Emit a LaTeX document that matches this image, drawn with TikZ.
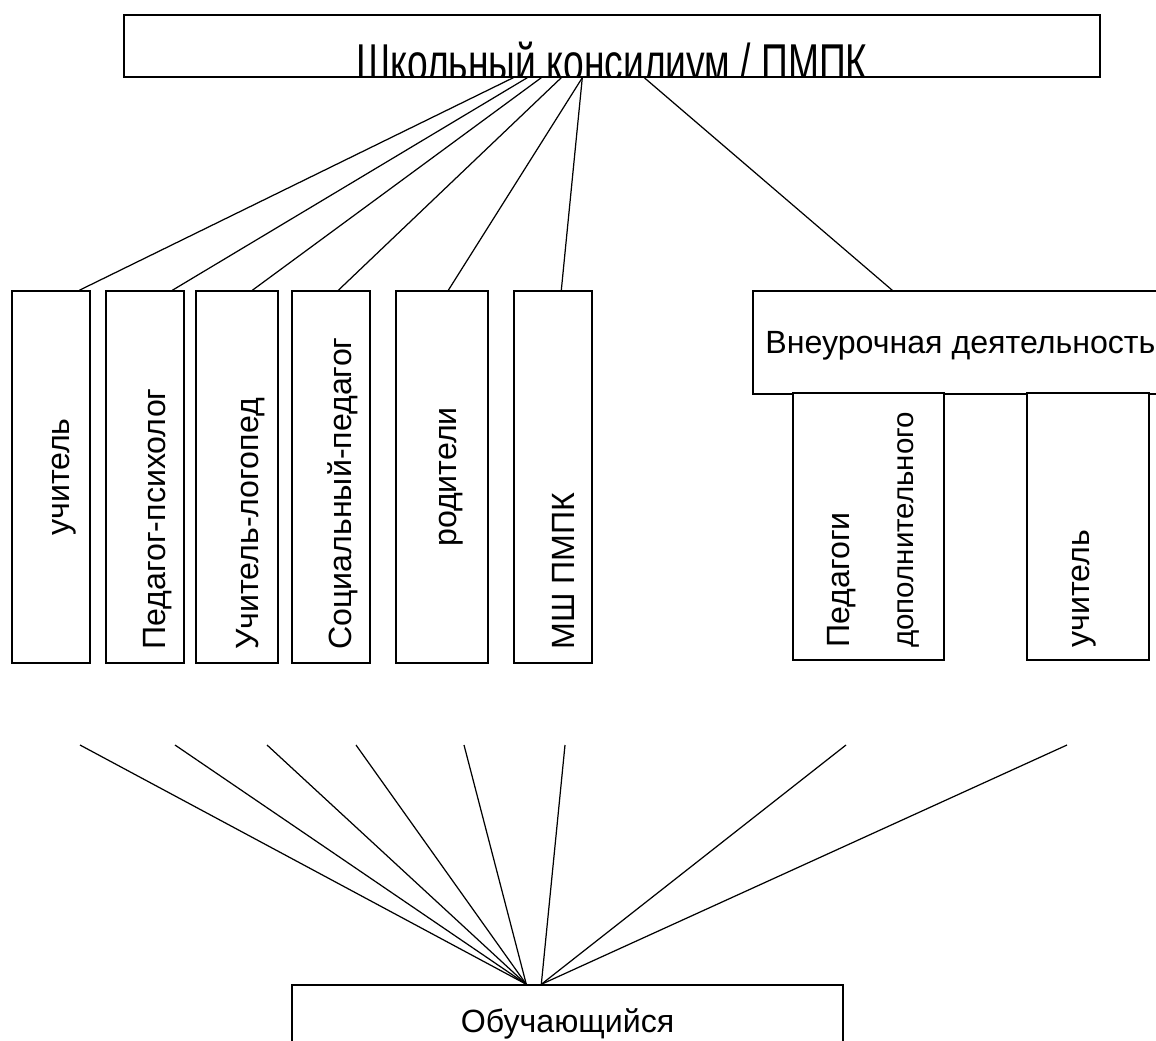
\documentclass[tikz,border=0pt]{standalone}
\usepackage{graphicx}
\usepackage{fontspec}
\setmainfont{Liberation Sans}
\usetikzlibrary{calc}
\newcommand{\pxu}{0.02cm}
\tikzset{
  unit/.style={draw, line width=0.8pt, fill=white, inner sep=0pt},
  link/.style={line width=0.7pt},
  txt/.style={inner sep=0pt, font=\fontsize{18.3}{21}\selectfont},
  vtxt/.style={txt, rotate=90, anchor=base west},
}

\begin{document}
\begin{tikzpicture}[x=0.02cm, y=-0.02cm]
\useasboundingbox (0,0) rectangle (1156,1041);
% top box
\node[unit, minimum width=976*\pxu, minimum height=62*\pxu] (council) at (612,46) {};
\begin{scope}
\clip (council.south west) rectangle (council.north east);
\node[anchor=base, inner sep=0pt] (council_t) at (612,80) {\resizebox{10.22cm}{\height}{\fontsize{29.5}{32}\selectfont Школьный консилиум / ПМПК}};
\end{scope}
% specialists
\node[unit, minimum width=78*\pxu, minimum height=372*\pxu] (teach) at (51,477) {};
\node[unit, minimum width=78*\pxu, minimum height=372*\pxu] (psych) at (145,477) {};
\node[unit, minimum width=82*\pxu, minimum height=372*\pxu] (logo) at (237,477) {};
\node[unit, minimum width=78*\pxu, minimum height=372*\pxu] (social) at (331,477) {};
\node[unit, minimum width=92*\pxu, minimum height=372*\pxu] (parents) at (442,477) {};
\node[unit, minimum width=78*\pxu, minimum height=372*\pxu] (pmpk) at (553,477) {};
\node[txt, rotate=90, anchor=base] (teach_t) at (69,477) {учитель};
\node[vtxt] (psych_t) at (165,650) {Педагог-психолог};
\node[vtxt] (logo_t) at (258,650) {Учитель-логопед};
\node[vtxt] (social_t) at (351,650) {Социальный-педагог};
\node[txt, rotate=90, anchor=base] (parents_t) at (456,477) {родители};
\node[vtxt] (pmpk_t) at (574,650) {МШ ПМПК};
% extracurricular
\node[unit, minimum width=407*\pxu, minimum height=103*\pxu] (extra) at (956.5,342.5) {};
\node[txt, anchor=base west] (extra_t) at (765,353) {Внеурочная деятельность};
\node[unit, minimum width=151*\pxu, minimum height=267*\pxu] (addped) at (868.5,526.5) {};
\node[unit, minimum width=122*\pxu, minimum height=267*\pxu] (teach2) at (1088,526.5) {};
\node[vtxt] (addped_a) at (849,648) {Педагоги};
\node[vtxt, font=\fontsize{16.8}{20}\selectfont] (addped_b) at (913,648) {дополнительного};
\node[vtxt] (teach2_t) at (1089,648) {учитель};
% student
\node[unit, minimum width=551*\pxu, minimum height=85*\pxu] (pupil) at (567.5,1027.5) {};
\node[txt, anchor=base] (pupil_t) at (567.5,1032) {Обучающийся};

\draw[link] ($(council.south west)+(390,0)$) -- ($(teach.north west)+(68,0)$);
\draw[link] ($(council.south west)+(404,0)$) -- ($(psych.north west)+(67,0)$);
\draw[link] ($(council.south west)+(418,0)$) -- ($(logo.north west)+(57,0)$);
\draw[link] ($(council.south west)+(438,0)$) -- ($(social.north west)+(47,0)$);
\draw[link] ($(council.south west)+(459,0)$) -- ($(parents.north west)+(53,0)$);
\draw[link] ($(council.south west)+(459,0)$) -- ($(pmpk.north west)+(48,0)$);
\draw[link] ($(council.south west)+(521,0)$) -- ($(extra.north west)+(140,0)$);

\coordinate (f1) at (80,745);
\coordinate (f2) at (175,745);
\coordinate (f3) at (267,745);
\coordinate (f4) at (356,745);
\coordinate (f5) at (464,745);
\coordinate (f6) at (565,745);
\coordinate (f7) at (846,745);
\coordinate (f8) at (1067,745);
\draw[link] (f1) -- ($(pupil.north west)+(235,0)$);
\draw[link] (f2) -- ($(pupil.north west)+(235,0)$);
\draw[link] (f3) -- ($(pupil.north west)+(235,0)$);
\draw[link] (f4) -- ($(pupil.north west)+(235,0)$);
\draw[link] (f5) -- ($(pupil.north west)+(235,0)$);
\draw[link] (f6) -- ($(pupil.north west)+(250,0)$);
\draw[link] (f7) -- ($(pupil.north west)+(250,0)$);
\draw[link] (f8) -- ($(pupil.north west)+(250,0)$);
\end{tikzpicture}
\end{document}
